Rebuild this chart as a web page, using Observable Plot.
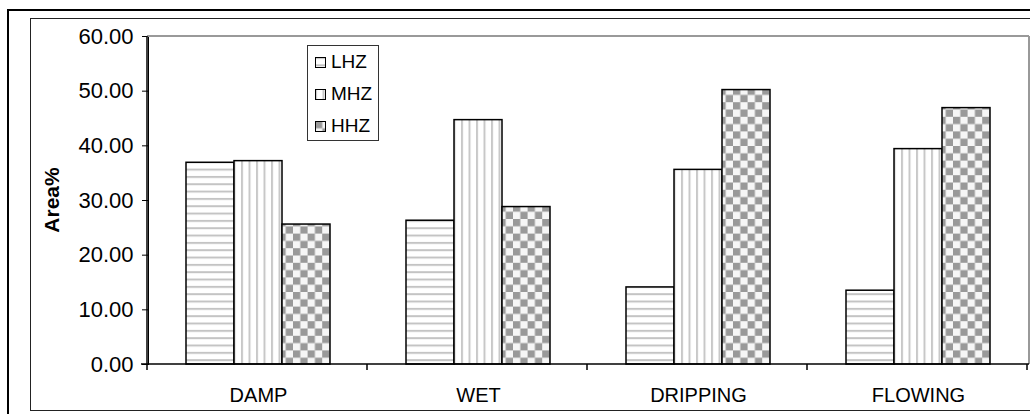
<!DOCTYPE html>
<html>
<head>
<meta charset="utf-8">
<script src="https://cdn.jsdelivr.net/npm/d3@7"></script>
<script src="https://cdn.jsdelivr.net/npm/@observablehq/plot@0.6"></script>
<style>
  html, body { margin: 0; padding: 0; overflow: hidden; width: 1030px; height: 414px; background: #fff; }
  #outer { position: absolute; left: 7px; top: 9px; width: 1100px; height: 500px; border: 2px solid #000; }
  #inner { position: absolute; left: 30px; top: 18px; width: 1100px; height: 391px; border: 1px solid #222; }
  #chart { position: absolute; left: 0; top: 0; }
  #legend { position: absolute; left: 307px; top: 45px; width: 72px; height: 96px; box-sizing: border-box;
            border: 1px solid #333; background: #fff; font-family: "Liberation Sans", Arial, sans-serif; font-size: 19px; }
  .item { position: absolute; left: 7px; height: 22px; display: flex; align-items: center; }
  .item svg { margin-right: 5px; }
</style>
</head>
<body>
<svg width="0" height="0" style="position:absolute">
  <defs>
    <pattern id="p-LHZ" patternUnits="userSpaceOnUse" width="8" height="7.33">
      <rect width="8" height="7.33" fill="#fff"/>
      <rect y="0" width="8" height="2" fill="#c4c4c4"/>
    </pattern>
    <pattern id="p-MHZ" patternUnits="userSpaceOnUse" width="7.5" height="8">
      <rect width="7.5" height="8" fill="#fff"/>
      <rect x="0" width="2" height="8" fill="#c8c8c8"/>
    </pattern>
    <pattern id="p-HHZ" patternUnits="userSpaceOnUse" width="14.6" height="14.6">
      <rect width="14.6" height="14.6" fill="#f6f6f6"/>
      <rect x="0" y="0" width="7.3" height="7.3" fill="#999"/>
      <rect x="7.3" y="7.3" width="7.3" height="7.3" fill="#999"/>
    </pattern>
  </defs>
</svg>
<div id="outer"></div>
<div id="inner"></div>
<div id="chart"></div>
<div id="legend"></div>
<script>
const categories = ["DAMP", "WET", "DRIPPING", "FLOWING"];
const series = ["LHZ", "MHZ", "HHZ"];
const lhz = [36.9, 26.3, 14.1, 13.5];
const mhz = [37.2, 44.7, 35.6, 39.4];
const hhz = [25.6, 28.8, 50.2, 46.9];
const yTicks = [0, 10, 20, 30, 40, 50, 60];
const yTitle = "Area%";

const values = {LHZ: lhz, MHZ: mhz, HHZ: hhz};
const data = [];
categories.forEach((c, i) => series.forEach(s => data.push({category: c, series: s, value: values[s][i]})));
const patterns = series.map(s => `url(#p-${s})`);

const chart = Plot.plot({
  width: 1040,
  height: 414,
  marginLeft: 147,
  marginRight: 11,
  marginTop: 36,
  marginBottom: 50,
  style: {background: "none", overflow: "visible", maxWidth: "none", fontSize: "20px",
          fontFamily: "'Liberation Sans', Arial, sans-serif", color: "#000"},
  facet: {data, x: "category"},
  fx: {domain: categories, padding: 0, axis: "bottom", label: null, tickSize: 0, tickPadding: 23},
  x: {domain: series, paddingInner: 0, paddingOuter: 0.75, axis: null},
  y: {domain: [0, 60], ticks: yTicks, tickFormat: d3.format(".2f"), tickSize: 6, tickPadding: 9, label: null, line: true},
  color: {domain: series, range: patterns},
  marks: [
    Plot.barY(data, {x: "series", y: "value", fill: "series", stroke: "#000", strokeWidth: 1.5})
  ]
});
document.getElementById("chart").appendChild(chart);

// y tick labels a bit larger, as in the reference
d3.select(chart).selectAll('g[aria-label^="y-axis"] text').attr("font-size", 22).style("font-size", "22px");

// axis lines, frame and category boundary ticks, derived from the scales
const fx = chart.scale("fx");
const y = chart.scale("y");
const svg = d3.select(chart);
const [x0, x1] = fx.range;
const y0 = y.apply(0), yTop = y.apply(60);
const g = svg.append("g");
g.append("line").attr("x1", x0).attr("x2", x1).attr("y1", yTop).attr("y2", yTop).attr("stroke", "#999").attr("stroke-width", 2);
g.append("line").attr("x1", x1).attr("x2", x1).attr("y1", yTop).attr("y2", y0).attr("stroke", "#999").attr("stroke-width", 2);
g.append("line").attr("x1", x0 - 6).attr("x2", x1).attr("y1", y0).attr("y2", y0).attr("stroke", "#000").attr("stroke-width", 1.5);
g.append("line").attr("x1", x0).attr("x2", x0).attr("y1", yTop).attr("y2", y0).attr("stroke", "#000").attr("stroke-width", 1.5);
for (let i = 0; i <= categories.length; i++) {
  const xx = x0 + i * fx.step;
  g.append("line").attr("x1", xx).attr("x2", xx).attr("y1", y0).attr("y2", y0 + 6).attr("stroke", "#000").attr("stroke-width", 1.5);
}
g.append("text")
  .attr("transform", `translate(53,${(y0 + yTop) / 2}) rotate(-90)`)
  .attr("text-anchor", "middle").attr("dominant-baseline", "middle")
  .attr("font-weight", "bold").attr("font-size", 21).text(yTitle);

// legend
const legend = document.getElementById("legend");
series.forEach((s, i) => {
  const item = document.createElement("div");
  item.className = "item";
  item.style.top = (5 + i * 32) + "px";
  item.innerHTML = `<svg width="11" height="11"><rect x="0.5" y="0.5" width="10" height="10" fill="url(#p-${s})" stroke="#000"/></svg><span>${s}</span>`;
  legend.appendChild(item);
});
</script>
</body>
</html>
